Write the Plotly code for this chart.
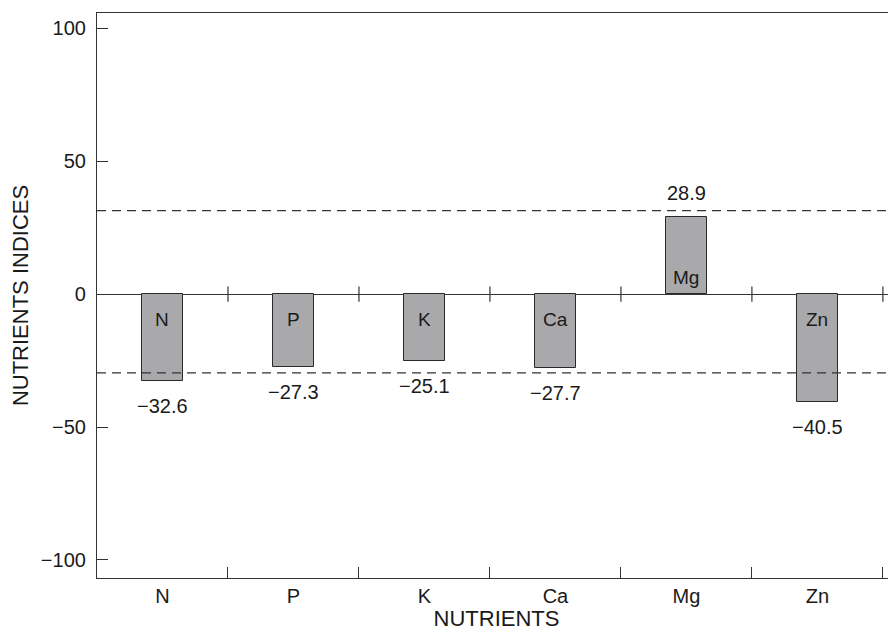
import plotly.graph_objects as go

# ---- data ----
nutrients = ["N", "P", "K", "Ca", "Mg", "Zn"]
indices = [-32.6, -27.3, -25.1, -27.7, 28.9, -40.5]
value_labels = ["\u221232.6", "\u221227.3", "\u221225.1", "\u221227.7", "28.9", "\u221240.5"]
y_tick_vals = [-100, -50, 0, 50, 100]
upper_limit = 31.4
lower_limit = -29.6

x_pos = list(range(len(nutrients)))
boundaries = [i + 0.5 for i in x_pos]

AXIS_COLOR = "#333333"
TEXT_COLOR = "#1a1a1a"
FONT = "Arial, Liberation Sans, Helvetica, sans-serif"

fig = go.Figure()

fig.add_trace(go.Bar(
    x=x_pos, y=indices, width=0.315,
    marker=dict(color="#a9a9ab", line=dict(color="#2a2a2a", width=1)),
    hoverinfo="skip", showlegend=False,
))

# crossing tick marks on the zero line at category boundaries
fig.add_trace(go.Scatter(
    x=boundaries, y=[0] * len(boundaries), mode="markers",
    marker=dict(symbol="line-ns", size=11, line=dict(color=AXIS_COLOR, width=1.2)),
    hoverinfo="skip", showlegend=False, cliponaxis=False,
))

# dashed limit lines
for lim in (upper_limit, lower_limit):
    fig.add_shape(type="line", xref="paper", x0=0, x1=1, yref="y", y0=lim, y1=lim,
                  line=dict(color="#333333", width=1.2, dash="9px,6px"), layer="above")

# labels inside bars and value labels outside
for xi, name, val, lab in zip(x_pos, nutrients, indices, value_labels):
    neg = val < 0
    fig.add_annotation(x=xi, y=0, text=name, showarrow=False,
                       yshift=-25 if neg else 17,
                       font=dict(size=19, color=TEXT_COLOR, family=FONT))
    fig.add_annotation(x=xi, y=val, text=lab, showarrow=False,
                       yshift=-25 if neg else 24,
                       font=dict(size=20, color=TEXT_COLOR, family=FONT))

fig.update_layout(
    width=888, height=623,
    margin=dict(l=89, r=0, t=5, b=53),
    paper_bgcolor="white", plot_bgcolor="white",
    font=dict(family=FONT, color=TEXT_COLOR, size=20),
    bargap=0,
    xaxis=dict(
        range=[-0.5, 5.6],
        tickmode="array", tickvals=x_pos, ticktext=nutrients,
        ticks="", showgrid=False, zeroline=False,
        showline=True, linecolor=AXIS_COLOR, linewidth=1.2, mirror=True,
        tickfont=dict(size=20),
        minor=dict(tickmode="array", tickvals=boundaries, ticks="inside",
                   ticklen=11, tickwidth=1.2, tickcolor=AXIS_COLOR, showgrid=False),
        title=dict(text="NUTRIENTS", font=dict(size=22), standoff=2),
    ),
    yaxis=dict(
        range=[-106.8, 105.8],
        tickmode="array", tickvals=y_tick_vals,
        ticks="inside", ticklen=11, tickwidth=1.2, tickcolor=AXIS_COLOR,
        showgrid=False,
        zeroline=True, zerolinecolor=AXIS_COLOR, zerolinewidth=1.2,
        showline=True, linecolor=AXIS_COLOR, linewidth=1.2,
        tickfont=dict(size=20),
        ticklabelstandoff=6,
        title=dict(text="NUTRIENTS INDICES", font=dict(size=22), standoff=14),
    ),
)

fig.write_html("out.html")
